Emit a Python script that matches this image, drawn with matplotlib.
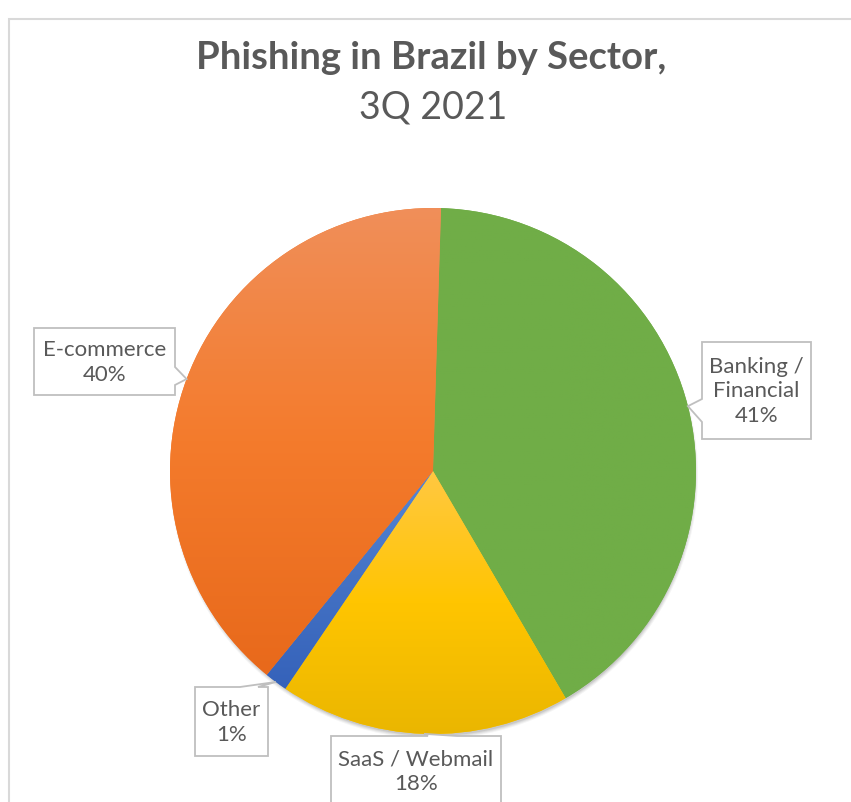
import numpy as np
import matplotlib.pyplot as plt
from matplotlib.patches import Polygon, Circle, Rectangle
from matplotlib.colors import LinearSegmentedColormap

# data
sectors = ["Banking /\nFinancial", "SaaS / Webmail", "Other", "E-commerce"]
shares = [41.1, 17.9, 1.4, 39.6]
pct_labels = ["41%", "18%", "1%", "40%"]
top_colors = ["#70AD47", "#FFC842", "#5787D6", "#F08F5A"]
mid_colors = ["#70AD47", "#FFC500", "#4472C4", "#F47B2C"]
bottom_colors = ["#70AD47", "#EAB600", "#3562BA", "#E8691B"]

W, H = 851, 803
plt.rcParams['font.family'] = ['Lato', 'DejaVu Sans']
TXT = "#595959"

fig = plt.figure(figsize=(W / 100, H / 100), dpi=100)
ax = fig.add_axes([0, 0, 1, 1])

cx, cy, r = 433, H - 472, 263

# soft shadow, mostly under the bottom edge
for k, a in enumerate([0.04, 0.05, 0.06, 0.08]):
    ax.add_patch(Circle((cx + 1, cy - 4), r + 1 - k, color="black", alpha=a, lw=0, zorder=0))

wedges, _ = ax.pie(shares, colors=mid_colors, startangle=88.25, counterclock=False,
                   center=(cx, cy), radius=r, wedgeprops=dict(linewidth=0))

# vertical gradient fill in each slice, over the slice's own height
grad = np.linspace(0, 1, 256).reshape(-1, 1)
for w, c0, cm, c1 in zip(wedges, top_colors, mid_colors, bottom_colors):
    v = w.get_path().vertices
    cmap = LinearSegmentedColormap.from_list("g", [c1, cm, c0])
    im = ax.imshow(grad, cmap=cmap, extent=[v[:, 0].min(), v[:, 0].max(), v[:, 1].min(), v[:, 1].max()],
                   origin="lower", aspect="auto", zorder=1.5)
    im.set_clip_path(w)


def callout(box, side, a, b, tip):
    x0, y0, x1, y1 = box
    pts = [(x0, y0)]
    if side == "top":
        pts += [(a, y0), tip, (b, y0)]
    pts.append((x1, y0))
    if side == "right":
        pts += [(x1, a), tip, (x1, b)]
    pts += [(x1, y1), (x0, y1)]
    if side == "left":
        pts += [(x0, b), tip, (x0, a)]
    return [(x, H - y) for x, y in pts]


# label boxes (image pixel coords) and the side where the pointer sits
boxes = [(702, 343, 811, 440), (331, 737, 501, 815), (195, 688, 268, 757), (34, 329, 175, 396)]
sides = ["left", "top", "top", "right"]
notch = [(400, 423), (428, 457), (240, 258), (368, 386)]

for w, lab, pct, box, side, (a, b) in zip(wedges, sectors, pct_labels, boxes, sides, notch):
    mid = np.deg2rad((w.theta1 + w.theta2) / 2)
    tip = (cx + r * np.cos(mid), H - (cy + r * np.sin(mid)))
    poly = Polygon(callout(box, side, a, b, tip), closed=True, facecolor="white",
                   edgecolor="#BFBFBF", lw=1.3, zorder=3, clip_on=False)
    ax.add_patch(poly)
    tx = (box[0] + box[2]) / 2
    ty = (box[1] + box[3]) / 2 if box[3] <= H else box[1] + 35
    ax.text(tx, H - ty, lab + "\n" + pct, ha="center", va="center", fontsize=16,
            color=TXT, linespacing=1.3, zorder=4)

# title
ax.text(431, H - 58, "Phishing in Brazil by Sector,", ha="center", va="center",
        fontsize=27.5, fontweight="bold", color=TXT)
ax.text(433, H - 107, "3Q 2021", ha="center", va="center", fontsize=27, color=TXT)

# chart border
ax.add_patch(Rectangle((9, -10), W + 10, H - 10, fill=False,
                       edgecolor="#D9D9D9", lw=1.5, clip_on=False))

ax.set_xlim(0, W)
ax.set_ylim(0, H)
ax.set_aspect("auto")
ax.axis("off")

fig.savefig("out.png", dpi=100)
